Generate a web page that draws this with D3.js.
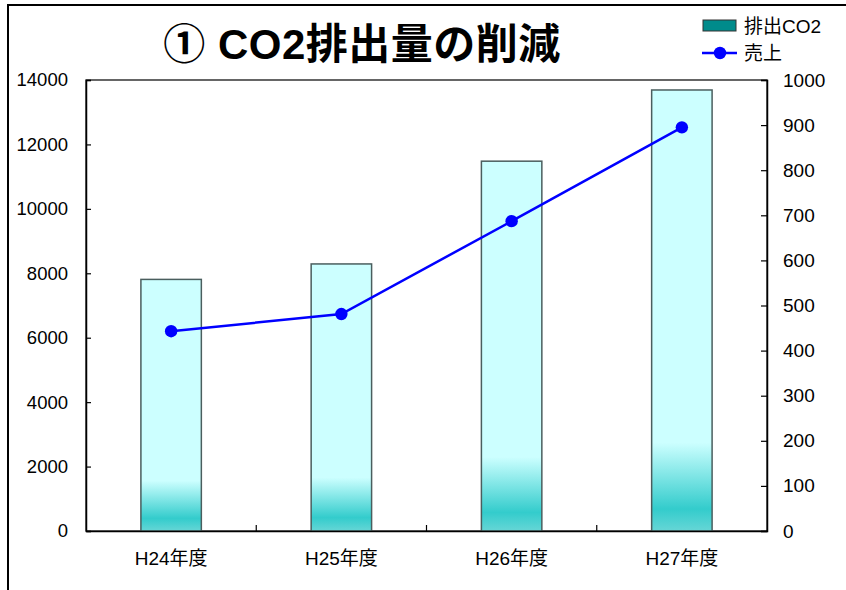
<!DOCTYPE html>
<html><head><meta charset="utf-8">
<script src="https://cdn.jsdelivr.net/npm/d3@7"></script>
<style>body{margin:0;background:#fff}svg{display:block}</style>
</head><body>
<svg id="c" width="846" height="590"></svg>
<script>
const categories = ["H24年度","H25年度","H26年度","H27年度"];
const co2Values = [7810, 8290, 11480, 13690];
const salesValues = [443, 481, 687, 895];
const leftTicks = [0,2000,4000,6000,8000,10000,12000,14000];
const rightTicks = [0,100,200,300,400,500,600,700,800,900,1000];
const titleText = "① CO2排出量の削減";
const legendLabels = ["排出CO2","売上"];

const svg = d3.select("#c");
const font = "'Liberation Sans','Noto Sans CJK JP',sans-serif";
const m = {l:86, t:80, r:767, b:531};

// outer frame
svg.append("rect").attr("x",8).attr("y",5).attr("width",840).attr("height",600)
  .attr("fill","none").attr("stroke","#000").attr("stroke-width",2);

const defs = svg.append("defs");
const g = defs.append("linearGradient").attr("id","barGrad").attr("x1",0).attr("y1",0).attr("x2",0).attr("y2",1);
[[0,"#ccffff"],[0.8,"#ccffff"],[0.95,"#33cccc"],[1,"#66d6d6"]].forEach(s=>
  g.append("stop").attr("offset",s[0]).attr("stop-color",s[1]));

const x = d3.scaleBand().domain(categories).range([m.l,m.r]).paddingInner(0).paddingOuter(0);
const yL = d3.scaleLinear().domain([0,14000]).range([m.b,m.t]);
const yR = d3.scaleLinear().domain([0,1000]).range([m.b,m.t]);
const bw = x.bandwidth()*0.355;

// plot area border
svg.append("rect").attr("x",m.l).attr("y",m.t).attr("width",m.r-m.l).attr("height",m.b-m.t)
  .attr("fill","none").attr("stroke","#000").attr("stroke-width",1.2);

// bars
svg.selectAll(".bar").data(categories).enter().append("rect")
  .attr("x",(d)=>x(d)+x.bandwidth()/2-bw/2)
  .attr("y",(d,i)=>yL(co2Values[i]))
  .attr("width",bw)
  .attr("height",(d,i)=>yL(0)-yL(co2Values[i]))
  .attr("fill","url(#barGrad)").attr("stroke","#4a5e5e").attr("stroke-width",1.5);

// axes
const axL = svg.append("g").attr("transform",`translate(${m.l},0)`)
  .call(d3.axisLeft(yL).tickValues(leftTicks).tickSize(-5).tickPadding(18).tickFormat(d3.format("d")));
const axR = svg.append("g").attr("transform",`translate(${m.r},0)`)
  .call(d3.axisRight(yR).tickValues(rightTicks).tickSize(-6).tickPadding(16).tickFormat(d3.format("d")));
const axB = svg.append("g").attr("transform",`translate(0,${m.b})`)
  .call(d3.axisBottom(x).tickSize(0).tickPadding(21));
[axL,axR,axB].forEach(a=>{
  a.select(".domain").attr("stroke","#000").attr("stroke-width",1.5);
  a.selectAll(".tick line").attr("stroke","#000").attr("stroke-width",1.2);
  a.selectAll("text").attr("font-family",font).attr("font-size",19).attr("fill","#000");
});
axL.selectAll("text").attr("font-size",18.5);
// category separator ticks
svg.append("g").selectAll("line").data(categories.slice(1)).enter().append("line")
  .attr("x1",d=>x(d)).attr("x2",d=>x(d)).attr("y1",m.b).attr("y2",m.b-6)
  .attr("stroke","#000").attr("stroke-width",1.2);

// line series
const line = d3.line().x((d,i)=>x(categories[i])+x.bandwidth()/2).y(d=>yR(d));
svg.append("path").datum(salesValues).attr("d",line).attr("fill","none")
  .attr("stroke","#0000ff").attr("stroke-width",2.5);
svg.selectAll(".pt").data(salesValues).enter().append("circle")
  .attr("cx",(d,i)=>x(categories[i])+x.bandwidth()/2).attr("cy",d=>yR(d)).attr("r",6.2).attr("fill","#0000ff");

// title
svg.append("text").attr("x",362).attr("y",59).attr("text-anchor","middle")
  .attr("font-family",font).attr("font-weight","bold").attr("font-size",42)
  .attr("letter-spacing",0.5).text(titleText);

// legend
svg.append("rect").attr("x",703).attr("y",20).attr("width",33).attr("height",11)
  .attr("fill","#008b8b").attr("stroke","#333").attr("stroke-width",1);
svg.append("text").attr("x",744).attr("y",33).attr("font-family",font).attr("font-size",19).text(legendLabels[0]);
svg.append("line").attr("x1",702).attr("x2",737).attr("y1",53).attr("y2",53).attr("stroke","#0000ff").attr("stroke-width",2.5);
svg.append("circle").attr("cx",720).attr("cy",53).attr("r",6.2).attr("fill","#0000ff");
svg.append("text").attr("x",744).attr("y",60).attr("font-family",font).attr("font-size",19).text(legendLabels[1]);
</script>
</body></html>
